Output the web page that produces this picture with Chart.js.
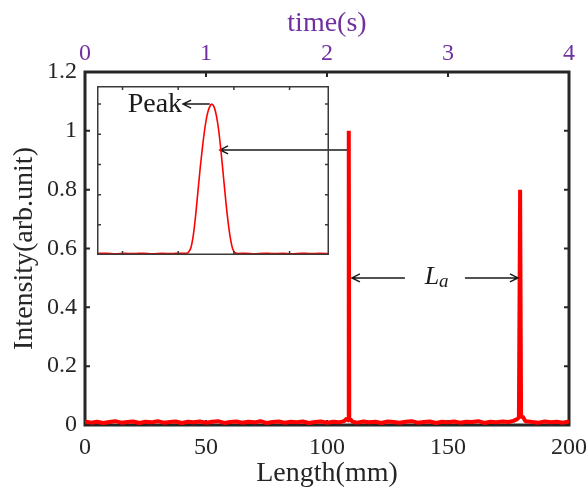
<!DOCTYPE html>
<html>
<head>
<meta charset="utf-8">
<script src="https://cdn.jsdelivr.net/npm/chart.js@4.4.0/dist/chart.umd.min.js"></script>
<style>
  html, body { margin: 0; padding: 0; background: #fff; }
  #wrap { position: relative; width: 588px; height: 495px; }
  #main { position: absolute; left: 0; top: 0; }
  #inset { position: absolute; left: 97px; top: 86px; }
</style>
</head>
<body>
<div id="wrap">
  <canvas id="main" width="588" height="495"></canvas>
  <canvas id="inset" width="232" height="169"></canvas>
</div>
<script>
  // main trace
  const lengthMM = [
    0, 2.5, 5, 7.5, 10, 12.5, 15, 17.5, 20, 22.5, 25, 27.5, 30, 32.5, 35, 37.5, 40, 42.5, 45, 47.5,
    50, 52.5, 55, 57.5, 60, 62.5, 65, 67.5, 70, 72.5, 75, 77.5, 80, 82.5, 85, 87.5, 90, 92.5, 95, 97.5,
    100, 102.5, 105, 107, 108.2, 108.8, 109.0, 109.2, 109.7, 110.5,
    112.5, 115, 117.5, 120, 122.5, 125, 127.5, 130, 132.5, 135, 137.5, 140, 142.5, 145, 147.5,
    150, 152.5, 155, 157.5, 160, 162.5, 165, 167.5, 170, 172.5, 175, 177, 178.6, 179.3, 179.8, 180.2, 180.8, 182,
    185, 187.5, 190, 192.5, 195, 197.5, 200
  ];
  const intensity = [
    0.012, 0.008, 0.011, 0.007, 0.010, 0.013, 0.008, 0.010, 0.012, 0.007, 0.011, 0.009, 0.013, 0.008, 0.010, 0.012, 0.007, 0.011, 0.009, 0.012,
    0.008, 0.011, 0.013, 0.007, 0.010, 0.012, 0.008, 0.011, 0.009, 0.013, 0.007, 0.010, 0.012, 0.008, 0.011, 0.009, 0.012, 0.007, 0.010, 0.012,
    0.008, 0.011, 0.009, 0.013, 0.022, 0.015, 1.0, 0.014, 0.020, 0.011,
    0.008, 0.012, 0.009, 0.011, 0.007, 0.012, 0.010, 0.008, 0.011, 0.013, 0.008, 0.010, 0.012, 0.007, 0.011,
    0.009, 0.012, 0.008, 0.011, 0.010, 0.013, 0.007, 0.011, 0.009, 0.012, 0.010, 0.014, 0.020, 0.026, 0.80, 0.024, 0.030, 0.013,
    0.010, 0.008, 0.012, 0.009, 0.011, 0.008, 0.012
  ];
  const lengthTicks = [0, 50, 100, 150, 200];
  const timeTicks = [0, 1, 2, 3, 4];
  const intensityTicks = [0, 0.2, 0.4, 0.6, 0.8, 1, 1.2];

  // zoomed peak in the inset
  const insetX = [
    0, 4, 8, 12, 16, 20, 24, 28, 32, 36, 38.5, 39.5, 40.5, 41.5, 42.5, 43.5, 44.5, 45.5, 46.5, 47.5, 48.5,
    49.5, 50.5, 51.5, 52.5, 53.5, 54.5, 55.5, 56.5, 57.5, 58.5, 59.5, 61, 64, 68, 72, 76, 80, 84, 88, 92, 96, 100
  ];
  const insetY = [
    0.010, 0.012, 0.008, 0.011, 0.009, 0.012, 0.008, 0.011, 0.009, 0.012, 0.012, 0.02, 0.05, 0.13, 0.26, 0.42, 0.58, 0.72, 0.84, 0.93, 0.98,
    1.0, 0.98, 0.92, 0.82, 0.68, 0.52, 0.36, 0.22, 0.11, 0.04, 0.015, 0.010, 0.011, 0.008, 0.012, 0.009, 0.011, 0.008, 0.012, 0.009, 0.011, 0.010
  ];
  const insetTickX = [11, 35, 59, 83];
  const insetTickY = [0.2, 0.4, 0.6, 0.8, 1.0];

  const RED = '#ff0000';
  const PURPLE = '#7030a0';
  const INK = '#262626';
  const SERIF = "'Liberation Serif', 'Times New Roman', serif";

  Chart.defaults.font.family = SERIF;
  Chart.defaults.color = INK;

  function arrow(ctx, x1, y, x2) {
    // line from x1 to x2, open head at x2
    const d = x2 < x1 ? 1 : -1;
    ctx.beginPath();
    ctx.moveTo(x1, y);
    ctx.lineTo(x2, y);
    ctx.moveTo(x2 + d * 8, y - 4);
    ctx.lineTo(x2, y);
    ctx.lineTo(x2 + d * 8, y + 4);
    ctx.stroke();
  }

  // keep end labels from pushing the plot area in
  function fixHeight(h) {
    return s => { s.height = h; s.paddingLeft = 0; s.paddingRight = 0; };
  }

  const frame = {
    id: 'frame',
    beforeDatasetsDraw(chart) {
      const {ctx, chartArea: a, scales} = chart;
      ctx.save();
      ctx.strokeStyle = INK;
      ctx.lineWidth = 2;
      ctx.beginPath();
      intensityTicks.forEach(v => {
        const y = scales.y.getPixelForValue(v);
        ctx.moveTo(a.left, y); ctx.lineTo(a.left + 5, y);
        ctx.moveTo(a.right, y); ctx.lineTo(a.right - 5, y);
      });
      timeTicks.forEach(v => {
        const x = scales.x2.getPixelForValue(v);
        ctx.moveTo(x, a.top); ctx.lineTo(x, a.top + 5);
      });
      lengthTicks.forEach(v => {
        const x = scales.x.getPixelForValue(v);
        ctx.moveTo(x, a.bottom); ctx.lineTo(x, a.bottom - 5);
      });
      ctx.stroke();
      ctx.lineWidth = 3;
      ctx.strokeRect(a.left, a.top, a.right - a.left, a.bottom - a.top);
      ctx.restore();
    },
    afterDraw(chart) {
      const {ctx, scales} = chart;
      const xs = scales.x, ys = scales.y;
      ctx.save();
      ctx.strokeStyle = '#1a1a1a';
      ctx.lineWidth = 1.5;
      // from the first spike to the inset
      arrow(ctx, xs.getPixelForValue(108.3), ys.getPixelForValue(0.935), xs.getPixelForValue(55.8));
      // L_a between the spikes
      const yLa = ys.getPixelForValue(0.5);
      arrow(ctx, xs.getPixelForValue(132.2), yLa, xs.getPixelForValue(110.3));
      arrow(ctx, xs.getPixelForValue(157), yLa, xs.getPixelForValue(178.9));
      const xLa = xs.getPixelForValue(145.5);
      ctx.fillStyle = '#1a1a1a';
      ctx.textBaseline = 'alphabetic';
      ctx.font = 'italic 26px ' + SERIF;
      ctx.textAlign = 'right';
      ctx.fillText('L', xLa + 2, yLa + 6);
      ctx.font = 'italic 19px ' + SERIF;
      ctx.textAlign = 'left';
      ctx.fillText('a', xLa + 2, yLa + 9);
      ctx.restore();
    }
  };

  new Chart(document.getElementById('main'), {
    type: 'line',
    data: {
      datasets: [{
        data: lengthMM.map((x, i) => ({x: x, y: intensity[i]})),
        borderColor: RED,
        borderWidth: 4,
        borderJoinStyle: 'bevel',
        pointRadius: 0,
        tension: 0,
        xAxisID: 'x',
        yAxisID: 'y'
      }]
    },
    options: {
      responsive: false,
      animation: false,
      layout: { padding: { right: 19, left: 0, top: 0, bottom: 0 } },
      plugins: { legend: { display: false }, tooltip: { enabled: false } },
      scales: {
        x: {
          type: 'linear', position: 'bottom', min: 0, max: 200,
          afterBuildTicks: s => { s.ticks = lengthTicks.map(v => ({value: v})); },
          afterFit: fixHeight(70),
          grid: { display: false, drawTicks: false },
          border: { display: false },
          ticks: { font: { size: 24 }, color: INK, padding: 8, maxRotation: 0, autoSkip: false, callback: v => String(v) },
          title: { display: true, text: 'Length(mm)', font: { size: 28 }, color: INK, padding: { top: 5, bottom: 5 } }
        },
        x2: {
          type: 'linear', position: 'top', min: 0, max: 4,
          afterBuildTicks: s => { s.ticks = timeTicks.map(v => ({value: v})); },
          afterFit: fixHeight(72),
          grid: { display: false, drawTicks: false },
          border: { display: false },
          ticks: { font: { size: 24 }, color: PURPLE, padding: 4, maxRotation: 0, autoSkip: false, callback: v => String(v) },
          title: { display: true, text: 'time(s)', font: { size: 28 }, color: PURPLE, padding: { top: 7, bottom: 7 } }
        },
        y: {
          type: 'linear', position: 'left', min: 0, max: 1.2,
          afterBuildTicks: s => { s.ticks = intensityTicks.map(v => ({value: v})); },
          afterFit: s => { s.width = 85; },
          grid: { display: false, drawTicks: false },
          border: { display: false },
          ticks: { font: { size: 24 }, color: INK, padding: 8, autoSkip: false, callback: v => String(v) },
          title: { display: true, text: 'Intensity(arb.unit)', font: { size: 28 }, color: INK, padding: { top: 8, bottom: 8 } }
        }
      }
    },
    plugins: [frame]
  });

  const insetFrame = {
    id: 'insetFrame',
    afterDraw(chart) {
      const {ctx, chartArea: a, scales} = chart;
      const xs = scales.x, ys = scales.y;
      ctx.save();
      ctx.strokeStyle = '#3a3a3a';
      ctx.lineWidth = 1.5;
      ctx.strokeRect(a.left + 0.75, a.top + 0.75, a.right - a.left - 1.5, a.bottom - a.top - 1.5);
      ctx.beginPath();
      insetTickX.forEach(v => {
        const x = xs.getPixelForValue(v);
        ctx.moveTo(x, a.top); ctx.lineTo(x, a.top + 4);
        ctx.moveTo(x, a.bottom); ctx.lineTo(x, a.bottom - 4);
      });
      insetTickY.forEach(v => {
        const y = ys.getPixelForValue(v);
        ctx.moveTo(a.left, y); ctx.lineTo(a.left + 4, y);
        ctx.moveTo(a.right, y); ctx.lineTo(a.right - 4, y);
      });
      ctx.stroke();
      // "Peak" label with arrow
      ctx.strokeStyle = '#1a1a1a';
      const yp = ys.getPixelForValue(1.0);
      const xHead = xs.getPixelForValue(37.1);
      arrow(ctx, xs.getPixelForValue(48.6), yp, xHead);
      ctx.fillStyle = '#1a1a1a';
      ctx.font = '28px ' + SERIF;
      ctx.textAlign = 'right';
      ctx.textBaseline = 'middle';
      ctx.fillText('Peak', xHead - 1, yp + 1);
      ctx.restore();
    }
  };

  new Chart(document.getElementById('inset'), {
    type: 'line',
    data: {
      datasets: [{
        data: insetX.map((x, i) => ({x: x, y: insetY[i]})),
        borderColor: RED,
        borderWidth: 1.6,
        pointRadius: 0,
        cubicInterpolationMode: 'monotone'
      }]
    },
    options: {
      responsive: false,
      animation: false,
      layout: { padding: 0 },
      plugins: { legend: { display: false }, tooltip: { enabled: false } },
      scales: {
        x: { type: 'linear', display: false, min: 0, max: 100 },
        y: { type: 'linear', display: false, min: 0, max: 1.12 }
      }
    },
    plugins: [insetFrame]
  });
</script>
</body>
</html>
